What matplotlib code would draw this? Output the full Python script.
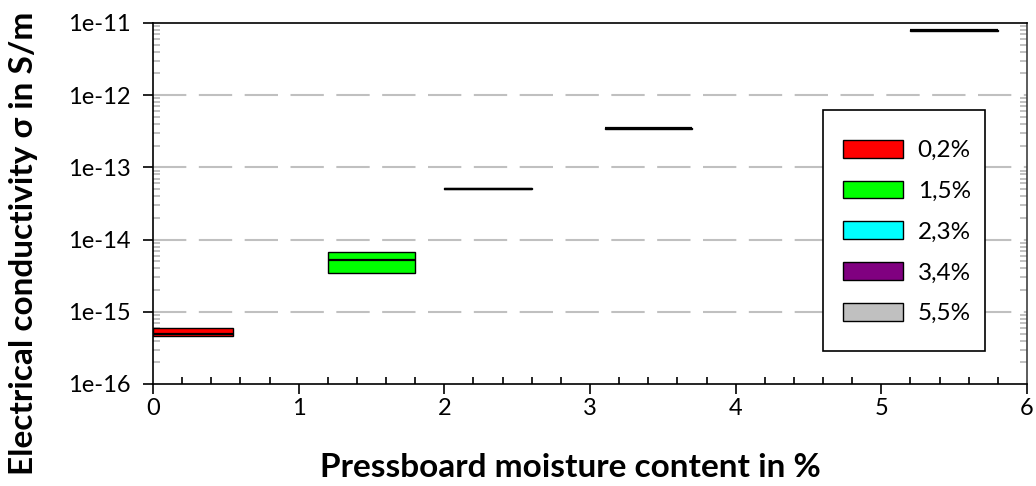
import numpy as np
import matplotlib
matplotlib.use("Agg")
import matplotlib.pyplot as plt
from matplotlib.patches import Patch, Rectangle
from matplotlib.ticker import LogLocator, FixedLocator, MultipleLocator, NullFormatter

plt.rcParams['font.family'] = ['Lato', 'DejaVu Sans']

# Moisture levels and measured conductivity spread (S/m)
labels = ['0,2%', '1,5%', '2,3%', '3,4%', '5,5%']
centers = [0.25, 1.5, 2.3, 3.4, 5.5]
box_low = [4.6e-16, 3.4e-15, 5.0e-14, 3.45e-13, 7.7e-12]
box_high = [6.0e-16, 6.8e-15, 5.15e-14, 3.55e-13, 8.1e-12]
medians = [4.85e-16, 5.2e-15, 5.07e-14, 3.51e-13, 7.9e-12]
colors = ['#ff0000', '#00ff00', '#00ffff', '#800080', '#c0c0c0']
y_ticks = [1e-16, 1e-15, 1e-14, 1e-13, 1e-12, 1e-11]
y_ticklabels = ['1e-16', '1e-15', '1e-14', '1e-13', '1e-12', '1e-11']
x_ticks = [0, 1, 2, 3, 4, 5, 6]

box_width = 0.6

fig = plt.figure(figsize=(10.36, 4.86), dpi=100)
ax = fig.add_axes([0.1477, 0.2099, 0.8436, 0.7428])
ax.set_yscale('log')
ax.set_xlim(0, 6)
ax.set_ylim(1e-16, 1e-11)

# Dashed decade grid lines
for yv in y_ticks[1:-1]:
    ax.axhline(yv, color='#c0c0c0', lw=1.5, dashes=(16, 6), zorder=1)

# Boxes with median lines
for c, lo, hi, med, col in zip(centers, box_low, box_high, medians, colors):
    left = max(c - box_width / 2, 0)
    right = c + box_width / 2
    ax.bar(left, hi - lo, bottom=lo, width=right - left, align='edge',
           color=col, edgecolor='black', linewidth=1.0, zorder=3)
    ax.hlines(med, left, right, color='black', lw=1.6, zorder=4)

# Axes styling
for s in ax.spines.values():
    s.set_color('black')
    s.set_linewidth(1.2)
ax.spines['right'].set_color('#404040')

ax.yaxis.set_major_locator(FixedLocator(y_ticks))
ax.set_yticklabels(y_ticklabels)
ax.yaxis.set_minor_locator(LogLocator(base=10, subs=np.arange(2, 10), numticks=20))
ax.yaxis.set_minor_formatter(NullFormatter())
ax.tick_params(axis='y', which='major', direction='out', length=7, width=1.2,
               labelsize=17, pad=9)
ax.tick_params(axis='y', which='minor', direction='in', length=5, width=1.1,
               color='#b0b0b0', right=True)

ax.xaxis.set_major_locator(FixedLocator(x_ticks))
ax.xaxis.set_minor_locator(MultipleLocator(0.2))
ax.tick_params(axis='x', which='major', direction='out', length=7, width=1.2,
               labelsize=17, pad=3)
ax.tick_params(axis='x', which='minor', direction='in', length=5, width=1.2,
               color='black')

ax.set_xlabel('Pressboard moisture content in %', fontsize=24,
              fontweight='bold')
ax.set_ylabel('Electrical conductivity σ in S/m', fontsize=24,
              fontweight='bold')
ax.xaxis.label.set_verticalalignment('center')
ax.yaxis.label.set_verticalalignment('center')
ax.xaxis.set_label_coords(0.478, -0.232)
ax.yaxis.set_label_coords(-0.148, 0.39)

# Legend entries without their own frame; a plain box is drawn around them
handles = [Patch(facecolor=col, edgecolor='black', linewidth=1.0) for col in colors]
leg = ax.legend(handles, labels, loc='upper left',
                bbox_to_anchor=(0.7895, 0.676), fontsize=17.5, frameon=False,
                handlelength=2.45, handleheight=0.74, labelspacing=0.8,
                borderpad=0, handletextpad=0.62, borderaxespad=0)
leg.set_zorder(6)
frame = Rectangle((0.7666, 0.0914), 0.1854, 0.6676, transform=ax.transAxes,
                  facecolor='white', edgecolor='black', linewidth=1.2,
                  zorder=5)
ax.add_patch(frame)

fig.savefig('out.png', dpi=100)
